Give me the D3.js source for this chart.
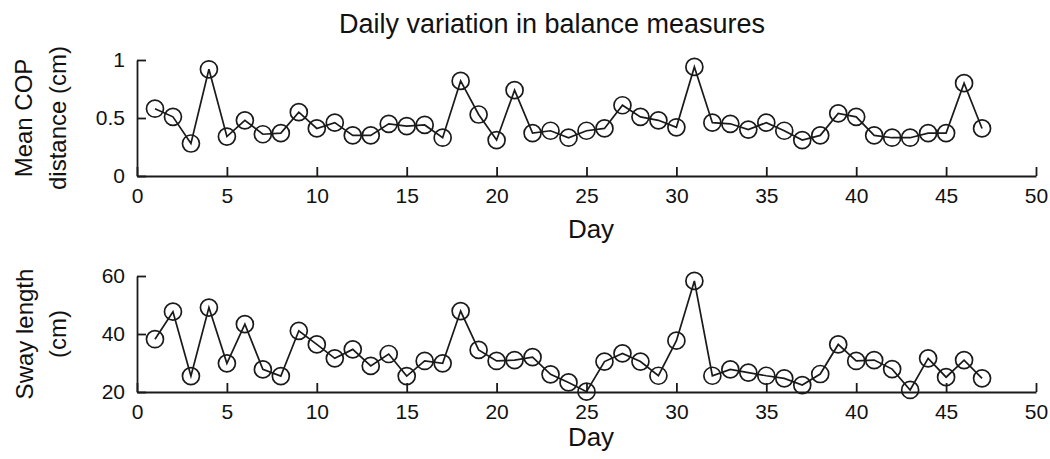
<!DOCTYPE html>
<html>
<head>
<meta charset="utf-8">
<script src="https://cdn.jsdelivr.net/npm/d3@7"></script>
<style>
  html, body { margin: 0; padding: 0; background: #fff; }
  svg { display: block; }
  text { font-family: "Liberation Sans", Arial, sans-serif; fill: #111; }
</style>
</head>
<body>
<svg id="chart" width="1050" height="459"></svg>
<script>
const days = [1,2,3,4,5,6,7,8,9,10,11,12,13,14,15,16,17,18,19,20,21,22,23,24,25,26,27,28,29,30,31,32,33,34,35,36,37,38,39,40,41,42,43,44,45,46,47];
const copValues = [0.58,0.51,0.28,0.92,0.34,0.48,0.36,0.37,0.55,0.41,0.46,0.35,0.35,0.45,0.43,0.44,0.33,0.82,0.53,0.31,0.74,0.37,0.39,0.33,0.39,0.41,0.61,0.51,0.48,0.42,0.94,0.46,0.45,0.40,0.46,0.39,0.31,0.35,0.54,0.51,0.35,0.33,0.33,0.37,0.37,0.80,0.41];
const swayValues = [38.2,47.7,25.5,49.1,29.9,43.4,27.8,25.5,41.1,36.4,31.6,34.7,29.0,33.1,25.5,30.7,29.9,47.9,34.5,30.7,31.0,32.0,26.1,23.3,20.1,30.5,33.3,30.5,25.6,37.7,58.3,25.6,27.8,26.7,25.6,24.7,22.4,26.2,36.4,30.7,31.0,27.9,20.7,31.6,25.1,31.0,24.7];
const xTicks = [0,5,10,15,20,25,30,35,40,45,50];
const copTicks = [0,0.5,1];
const copTickLabels = ["0","0.5","1"];
const swayTicks = [20,40,60];
const swayTickLabels = ["20","40","60"];
const titleText = "Daily variation in balance measures";
const xLabel = "Day";
const copLabel = ["Mean COP", "distance (cm)"];
const swayLabel = ["Sway length", "(cm)"];

const svg = d3.select("#chart");
const ink = "#1a1a1a";

const x = d3.scaleLinear().domain([0, 50]).range([137, 1036]);

function panel(opts) {
  const y = d3.scaleLinear().domain(opts.domain).range(opts.range);
  const g = svg.append("g");

  const xa = g.append("g")
    .attr("transform", `translate(0,${opts.range[0]})`)
    .call(d3.axisBottom(x).tickValues(xTicks).tickFormat(d3.format("d"))
      .tickSizeInner(-9).tickSizeOuter(0).tickPadding(12));
  const ya = g.append("g")
    .attr("transform", `translate(${x.range()[0]},0)`)
    .call(d3.axisLeft(y).tickValues(opts.ticks)
      .tickFormat((d, i) => opts.tickLabels[i])
      .tickSizeInner(-9).tickSizeOuter(0).tickPadding(12));
  [xa, ya].forEach(a => {
    a.selectAll("path, line").attr("stroke", ink).attr("stroke-width", 1.8);
    a.selectAll("text").style("font-family", '"Liberation Sans", Arial, sans-serif')
      .style("font-size", "21px").attr("fill", ink);
  });

  const line = d3.line().x((d, i) => x(days[i])).y(d => y(d));
  g.append("path").datum(opts.values)
    .attr("d", line).attr("fill", "none")
    .attr("stroke", ink).attr("stroke-width", 1.7);

  g.selectAll("circle.pt").data(opts.values).join("circle")
    .attr("class", "pt")
    .attr("cx", (d, i) => x(days[i]))
    .attr("cy", d => y(d))
    .attr("r", 8.5)
    .attr("fill", "none")
    .attr("stroke", ink).attr("stroke-width", 1.7);

  g.append("text")
    .attr("x", 591).attr("y", opts.dayY)
    .attr("text-anchor", "middle")
    .style("font-size", "26px")
    .text(xLabel);

  const cy = (opts.range[0] + opts.range[1]) / 2;
  opts.label.forEach((t, i) => {
    g.append("text")
      .attr("transform", `translate(${opts.labelX[i]},${cy}) rotate(-90)`)
      .attr("text-anchor", "middle")
      .style("font-size", "24px")
      .text(t);
  });
}

panel({ domain: [0, 1], range: [176, 60], ticks: copTicks, tickLabels: copTickLabels,
        values: copValues, label: copLabel, labelX: [32, 66], dayY: 238 });
panel({ domain: [20, 60], range: [392, 276], ticks: swayTicks, tickLabels: swayTickLabels,
        values: swayValues, label: swayLabel, labelX: [33, 66], dayY: 446 });

svg.append("text")
  .attr("x", 552).attr("y", 33)
  .attr("text-anchor", "middle")
  .style("font-size", "27px")
  .text(titleText);
</script>
</body>
</html>
